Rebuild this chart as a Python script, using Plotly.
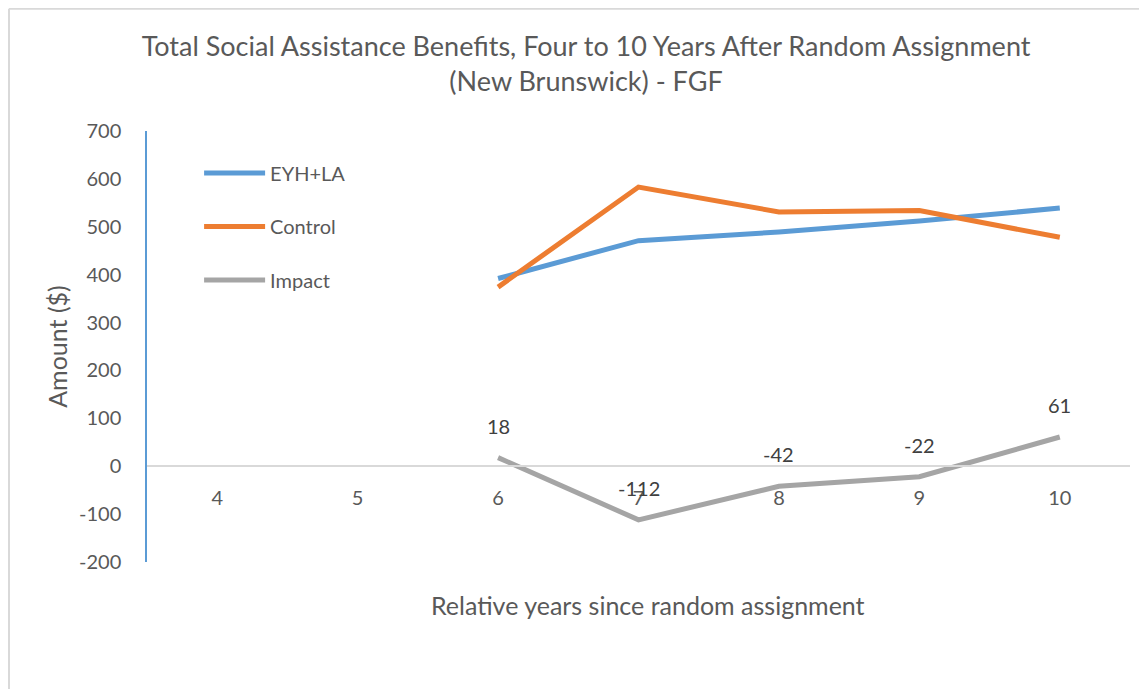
import plotly.graph_objects as go

years = [6, 7, 8, 9, 10]
tick_years = [4, 5, 6, 7, 8, 9, 10]
y_ticks = [-200, -100, 0, 100, 200, 300, 400, 500, 600, 700]
eyh_la = [392, 471, 489, 512, 539]
control = [374, 583, 531, 534, 478]
impact = [18, -112, -42, -22, 61]

FONT = "Lato"
GREY = "#595959"

fig = go.Figure()
fig.add_trace(go.Scatter(x=years, y=eyh_la, mode="lines", name="EYH+LA",
                         line=dict(color="#5b9bd5", width=5), legendgroup="a"))
fig.add_trace(go.Scatter(x=years, y=control, mode="lines", name="Control",
                         line=dict(color="#ed7d31", width=5), legendgroup="b"))
fig.add_trace(go.Scatter(x=years, y=impact, mode="lines", name="Impact",
                         line=dict(color="#a5a5a5", width=5), legendgroup="c"))

for xv, yv in zip(years, impact):
    fig.add_annotation(x=xv, y=yv, text=str(yv), showarrow=False, yshift=32,
                       font=dict(family=FONT, size=20, color="#404040"))

fig.add_annotation(x=0.51, y=-0.1, xref="paper", yref="paper", yanchor="middle",
                   text="Relative years since random assignment", showarrow=False,
                   font=dict(family=FONT, size=25, color=GREY))

# chart frame
fig.add_shape(type="line", xref="paper", yref="paper", x0=-0.1404, x1=-0.1404, y0=-1, y1=1.2837,
              line=dict(color="#d9d9d9", width=2))
fig.add_shape(type="line", xref="paper", yref="paper", x0=-0.1404, x1=1.5, y0=1.2837, y1=1.2837,
              line=dict(color="#d9d9d9", width=2))

fig.update_layout(
    width=1139, height=681,
    margin=dict(l=139, r=17, t=123, b=127),
    paper_bgcolor="white", plot_bgcolor="white",
    title=dict(text="Total Social Assistance Benefits, Four to 10 Years After Random Assignment<br>(New Brunswick) - FGF",
               x=0.5075, xanchor="center", y=0.930, yanchor="middle",
               font=dict(family=FONT, size=27, color=GREY)),
    legend=dict(x=0.053, y=0.948, xanchor="left", yanchor="top", bgcolor="rgba(0,0,0,0)",
                font=dict(family=FONT, size=20, color=GREY), itemwidth=61, tracegroupgap=24.5),
    xaxis=dict(range=[3.5, 10.5], tickvals=tick_years, anchor="free", position=0.2227,
               showline=True, linecolor="#d9d9d9", linewidth=1.5, showgrid=False, zeroline=False,
               ticks="", ticklabelstandoff=14, tickfont=dict(family=FONT, size=20, color=GREY)),
    yaxis=dict(range=[-200, 700], tickvals=y_ticks, ticktext=[str(v) for v in y_ticks],
               showgrid=False, zeroline=False,
               showline=True, linecolor="#5b9bd5", linewidth=1.5, ticks="", ticklabelstandoff=20,
               title=dict(text="Amount ($)", standoff=4, font=dict(family=FONT, size=25, color=GREY)),
               tickfont=dict(family=FONT, size=20, color=GREY)),
    showlegend=True,
)

fig.write_html("out.html")
